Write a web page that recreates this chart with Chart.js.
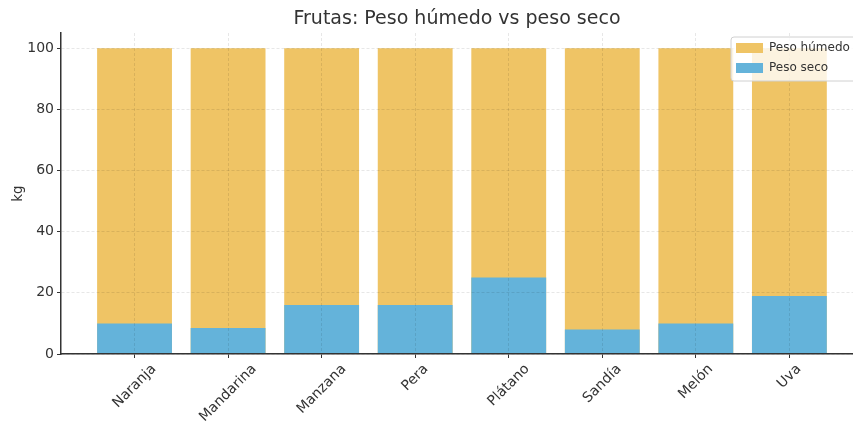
<!DOCTYPE html>
<html>
<head>
<meta charset="utf-8">
<script src="https://cdn.jsdelivr.net/npm/chart.js@4"></script>
<style>
  body { margin: 0; background: #fff; }
  #wrap { width: 853px; height: 425px; }
</style>
</head>
<body>
<div id="wrap"><canvas id="grafica"></canvas></div>
<script>
// datos
const frutas = ['Naranja', 'Mandarina', 'Manzana', 'Pera', 'Plátano', 'Sandía', 'Melón', 'Uva'];
const pesoHumedo = [100, 100, 100, 100, 100, 100, 100, 100];
const pesoSeco = [10, 8.5, 16, 16, 25, 8, 10, 19];
const ticksY = [0, 20, 40, 60, 80, 100];
const titulo = 'Frutas: Peso húmedo vs peso seco';

const colorHumedo = '#EFC465';
const colorSeco = '#64B3DA';
const texto = '#333333';
const fuente = 'DejaVu Sans';

// titulo centrado sobre el area de la grafica (no sobre todo el canvas)
const tituloArea = {
    id: 'tituloArea',
    afterDraw(chart) {
        const ctx = chart.ctx;
        const area = chart.chartArea;
        ctx.save();
        ctx.font = '19px ' + fuente;
        ctx.fillStyle = texto;
        ctx.textAlign = 'center';
        ctx.textBaseline = 'middle';
        ctx.fillText(titulo, (area.left + area.right) / 2, 19);
        ctx.restore();
    }
};

// etiquetas del eje x giradas 45 grados y centradas en su marca (como matplotlib)
const etiquetasX = {
    id: 'etiquetasX',
    afterDraw(chart) {
        const ctx = chart.ctx;
        const escala = chart.scales.x;
        const tam = 14;
        ctx.save();
        ctx.font = tam + 'px ' + fuente;
        ctx.fillStyle = texto;
        ctx.textAlign = 'center';
        ctx.textBaseline = 'middle';
        frutas.forEach((f, i) => {
            const px = escala.getPixelForValue(i);
            const alto = (ctx.measureText(f).width + tam) * Math.SQRT1_2;
            ctx.save();
            ctx.translate(px, escala.top + 8 + alto / 2);
            ctx.rotate(-Math.PI / 4);
            ctx.fillText(f, 0, 0);
            ctx.restore();
        });
        ctx.restore();
    }
};

// leyenda dentro del area, arriba a la derecha
const leyendaDentro = {
    id: 'leyendaDentro',
    afterDraw(chart) {
        const ctx = chart.ctx;
        const area = chart.chartArea;
        const x = area.right - 122, y = area.top + 4;
        ctx.save();
        ctx.beginPath();
        ctx.roundRect(x, y, 140, 44, 3);
        ctx.fillStyle = 'rgba(255,255,255,0.8)';
        ctx.fill();
        ctx.strokeStyle = '#d0d0d0';
        ctx.lineWidth = 1;
        ctx.stroke();
        ctx.font = '12px ' + fuente;
        ctx.textBaseline = 'middle';
        chart.data.datasets.forEach((ds, i) => {
            const yy = y + 11 + i * 20;
            ctx.fillStyle = ds.backgroundColor;
            ctx.fillRect(x + 5, yy - 5, 27, 10);
            ctx.fillStyle = texto;
            ctx.fillText(ds.label, x + 38, yy);
        });
        ctx.restore();
    }
};

new Chart(document.getElementById('grafica'), {
    type: 'bar',
    data: {
        datasets: [
            {
                label: 'Peso húmedo',
                data: pesoHumedo.map((v, i) => ({ x: i, y: v })),
                backgroundColor: colorHumedo,
                order: 1
            },
            {
                label: 'Peso seco',
                data: pesoSeco.map((v, i) => ({ x: i, y: v })),
                backgroundColor: colorSeco,
                order: 0
            }
        ]
    },
    options: {
        responsive: true,
        maintainAspectRatio: false,
        animation: false,
        layout: { padding: { left: 0, right: 0, top: 33, bottom: 0 } },
        datasets: { bar: { grouped: false, barPercentage: 0.8, categoryPercentage: 1 } },
        plugins: {
            legend: { display: false },
            tooltip: { enabled: false },
            title: { display: false }
        },
        scales: {
            x: {
                type: 'linear',
                offset: false,
                min: -0.786,
                max: 7.68,
                afterBuildTicks: s => { s.ticks = frutas.map((f, i) => ({ value: i })); },
                afterFit: s => { s.height = 71; s.paddingLeft = 0; s.paddingRight = 0; },
                ticks: { display: false },
                grid: { offset: false, z: 1, color: 'rgba(0,0,0,0.12)', lineWidth: 0.8, tickColor: texto, tickLength: 4, tickWidth: 1 },
                border: { color: texto, width: 1.5, dash: [3, 2], z: 2 }
            },
            y: {
                min: 0,
                max: 105,
                afterBuildTicks: s => { s.ticks = ticksY.map(v => ({ value: v })); },
                afterFit: s => { s.width = 61; s.paddingTop = 0; s.paddingBottom = 0; },
                title: { display: true, text: 'kg', color: texto, font: { family: fuente, size: 13.5 }, padding: { top: 10, bottom: 0 } },
                ticks: { color: texto, font: { family: fuente, size: 14 }, padding: 3 },
                grid: { z: 1, color: 'rgba(0,0,0,0.12)', lineWidth: 0.8, tickColor: texto, tickLength: 4, tickWidth: 1 },
                border: { color: texto, width: 1.5, dash: [3, 2], z: 2 }
            }
        }
    },
    plugins: [tituloArea, etiquetasX, leyendaDentro]
});
</script>
</body>
</html>
